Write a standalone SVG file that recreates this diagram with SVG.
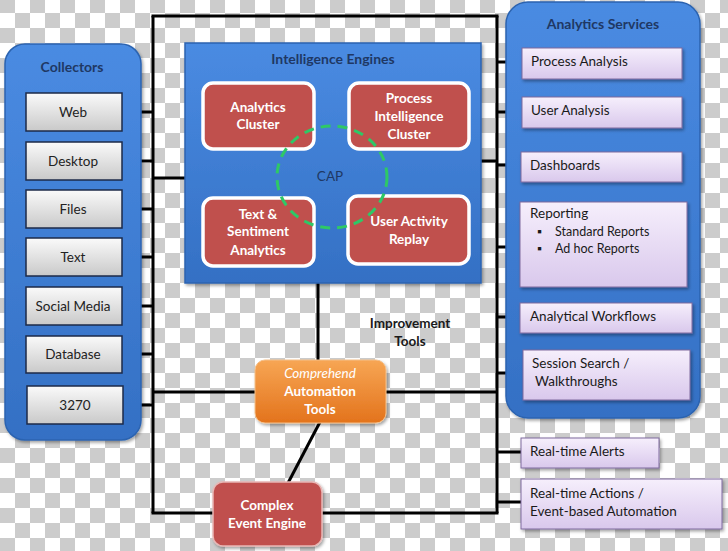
<svg xmlns="http://www.w3.org/2000/svg" width="728" height="551" viewBox="0 0 728 551">
<defs>
<pattern id="checker" width="30" height="30" patternUnits="userSpaceOnUse" patternTransform="translate(0,-2)">
<rect width="30" height="30" fill="#ffffff"/>
<rect width="15" height="15" fill="#cccccc"/>
<rect x="15" y="15" width="15" height="15" fill="#cccccc"/>
</pattern>
<linearGradient id="blue" x1="0" y1="0" x2="0" y2="1">
<stop offset="0" stop-color="#4a8be2"/>
<stop offset="1" stop-color="#3470c4"/>
</linearGradient>
<linearGradient id="gray" x1="0" y1="0" x2="0" y2="1">
<stop offset="0" stop-color="#fafafa"/>
<stop offset="1" stop-color="#c9c9c9"/>
</linearGradient>
<linearGradient id="lav" x1="0" y1="0" x2="0" y2="1">
<stop offset="0" stop-color="#f6effc"/>
<stop offset="1" stop-color="#d9c8ec"/>
</linearGradient>
<linearGradient id="orange" x1="0" y1="0" x2="0" y2="1">
<stop offset="0" stop-color="#f7a654"/>
<stop offset="1" stop-color="#e3731c"/>
</linearGradient>
<filter id="sh" x="-10%" y="-10%" width="130%" height="130%">
<feDropShadow dx="1.5" dy="2" stdDeviation="1.5" flood-color="#000" flood-opacity="0.35"/>
</filter>
<style>
.t{font-family:Lato,"Liberation Sans",sans-serif}
.title{font-weight:bold;font-size:14px;fill:#1f3864;text-anchor:middle}
.panel{fill:url(#blue);stroke:#2c63b0;stroke-width:1.5}
.col{fill:url(#gray);stroke:#1c2a48;stroke-width:1.5}
.colt{font-size:13.5px;fill:#222;text-anchor:middle}
.red{fill:#c0504d;stroke:#ffffff;stroke-width:3.5}
.redt{font-size:13.5px;fill:#ffffff;font-weight:bold;text-anchor:middle}
.lav{fill:url(#lav);stroke:#7f6a9e;stroke-width:1}
.lavt{font-size:13.5px;fill:#1a1a1a}
.ln{stroke:#000;stroke-width:3;fill:none}
</style>
</defs>
<rect width="728" height="551" fill="url(#checker)"/>

<g id="connectors">
<line class="ln" x1="153" y1="16" x2="153" y2="513"/>
<line class="ln" x1="151.5" y1="16" x2="498.5" y2="16"/>
<line class="ln" x1="497" y1="16" x2="497" y2="513"/>
<line class="ln" x1="151.5" y1="513" x2="498.5" y2="513"/>
<line class="ln" x1="153" y1="392" x2="497" y2="392"/>
<line class="ln" x1="122" y1="112" x2="153" y2="112"/>
<line class="ln" x1="122" y1="161" x2="153" y2="161"/>
<line class="ln" x1="122" y1="209" x2="153" y2="209"/>
<line class="ln" x1="122" y1="257" x2="153" y2="257"/>
<line class="ln" x1="122" y1="306" x2="153" y2="306"/>
<line class="ln" x1="122" y1="354" x2="153" y2="354"/>
<line class="ln" x1="122" y1="405" x2="153" y2="405"/>
<line class="ln" x1="153" y1="178" x2="185" y2="178"/>
<line class="ln" x1="480" y1="161" x2="497" y2="161"/>
<line class="ln" x1="318" y1="283" x2="318" y2="362"/>
<line class="ln" x1="320" y1="422" x2="288" y2="483"/>
<line class="ln" x1="497" y1="62" x2="522" y2="62"/>
<line class="ln" x1="497" y1="112" x2="522" y2="112"/>
<line class="ln" x1="497" y1="165" x2="522" y2="165"/>
<line class="ln" x1="497" y1="247" x2="520" y2="247"/>
<line class="ln" x1="497" y1="317" x2="520" y2="317"/>
<line class="ln" x1="497" y1="373" x2="523" y2="373"/>
<line class="ln" x1="497" y1="452" x2="521" y2="452"/>
<line class="ln" x1="497" y1="502" x2="521" y2="502"/>
</g>

<g id="collectors">
<rect class="panel" x="5" y="44" width="136" height="396" rx="20" filter="url(#sh)"/>
<text class="t title" x="72" y="72">Collectors</text>
</g>
<g id="web"><rect class="col" x="26" y="93" width="96" height="38"/><text class="t colt" x="73" y="117">Web</text></g>
<g id="desktop"><rect class="col" x="26" y="142" width="96" height="38"/><text class="t colt" x="73" y="166">Desktop</text></g>
<g id="files"><rect class="col" x="26" y="190" width="96" height="38"/><text class="t colt" x="73" y="214">Files</text></g>
<g id="text"><rect class="col" x="26" y="238" width="96" height="38"/><text class="t colt" x="73" y="262">Text</text></g>
<g id="social"><rect class="col" x="26" y="287" width="96" height="38"/><text class="t colt" x="73" y="311">Social Media</text></g>
<g id="database"><rect class="col" x="26" y="336" width="96" height="37"/><text class="t colt" x="73" y="359">Database</text></g>
<g id="c3270"><rect class="col" x="27" y="386" width="96" height="38"/><text class="t colt" x="75" y="410">3270</text></g>

<g id="intelligence">
<rect class="panel" x="185" y="43" width="296" height="240" filter="url(#sh)"/>
<text class="t title" x="333" y="64">Intelligence Engines</text>
</g>
<g id="analytics-cluster"><rect class="red" x="203" y="83" width="111" height="66" rx="10"/><text class="t redt" x="258" y="112">Analytics</text><text class="t redt" x="258" y="129">Cluster</text></g>
<g id="process-cluster"><rect class="red" x="349" y="83" width="120" height="66" rx="10"/><text class="t redt" x="409" y="103">Process</text><text class="t redt" x="409" y="121">Intelligence</text><text class="t redt" x="409" y="139">Cluster</text></g>
<g id="text-sentiment"><rect class="red" x="203" y="198" width="111" height="68" rx="10"/><text class="t redt" x="258" y="219">Text &amp;</text><text class="t redt" x="258" y="236">Sentiment</text><text class="t redt" x="258" y="255">Analytics</text></g>
<g id="user-activity"><rect class="red" x="348" y="196" width="121" height="68" rx="10"/><text class="t redt" x="409" y="226">User Activity</text><text class="t redt" x="409" y="244">Replay</text></g>
<g id="cap">
<ellipse cx="332" cy="177" rx="55" ry="51" fill="none" stroke="#2ec866" stroke-width="3" stroke-dasharray="10 7"/>
<text class="t" x="330" y="181" font-size="13.5" fill="#1f3864" text-anchor="middle">CAP</text>
</g>

<g id="services">
<rect class="panel" x="506" y="2" width="194" height="416" rx="22" filter="url(#sh)"/>
<text class="t title" x="603" y="29">Analytics Services</text>
</g>
<g id="process-analysis"><rect class="lav" x="522" y="48" width="160" height="31" filter="url(#sh)"/><text class="t lavt" x="531" y="66">Process Analysis</text></g>
<g id="user-analysis"><rect class="lav" x="522" y="97" width="160" height="31" filter="url(#sh)"/><text class="t lavt" x="531" y="115">User Analysis</text></g>
<g id="dashboards"><rect class="lav" x="521" y="152" width="161" height="30" filter="url(#sh)"/><text class="t lavt" x="530" y="170">Dashboards</text></g>
<g id="reporting"><rect class="lav" x="520" y="202" width="167" height="85" filter="url(#sh)"/>
<text class="t lavt" x="530" y="218">Reporting</text>
<text class="t" x="537" y="236" font-size="12.5" fill="#1a1a1a">▪</text><text class="t" x="555" y="236" font-size="12.5" fill="#1a1a1a">Standard Reports</text>
<text class="t" x="537" y="253" font-size="12.5" fill="#1a1a1a">▪</text><text class="t" x="555" y="253" font-size="12.5" fill="#1a1a1a">Ad hoc Reports</text>
</g>
<g id="workflows"><rect class="lav" x="520" y="303" width="172" height="30" filter="url(#sh)"/><text class="t lavt" x="530" y="321">Analytical Workflows</text></g>
<g id="session"><rect class="lav" x="523" y="350" width="167" height="50" filter="url(#sh)"/><text class="t lavt" x="532" y="368">Session Search /</text><text class="t lavt" x="535" y="386">Walkthroughs</text></g>

<g id="alerts"><rect class="lav" x="521" y="438" width="138" height="30" filter="url(#sh)"/><text class="t lavt" x="530" y="456">Real-time Alerts</text></g>
<g id="actions"><rect class="lav" x="521" y="479" width="201" height="50" filter="url(#sh)"/><text class="t lavt" x="530" y="498">Real-time Actions /</text><text class="t lavt" x="530" y="516">Event-based Automation</text></g>

<g id="improvement"><text class="t" x="410" y="328" font-size="13.5" font-weight="bold" fill="#1a1a1a" text-anchor="middle">Improvement</text><text class="t" x="410" y="346" font-size="13.5" font-weight="bold" fill="#1a1a1a" text-anchor="middle">Tools</text></g>

<g id="comprehend"><rect x="255" y="360" width="131" height="63" rx="10" fill="url(#orange)" stroke="#f4c08a" stroke-width="1" filter="url(#sh)"/>
<text class="t" x="320" y="378" font-size="13.5" font-style="italic" fill="#ffffff" text-anchor="middle">Comprehend</text>
<text class="t redt" x="320" y="396">Automation</text>
<text class="t redt" x="320" y="414">Tools</text></g>

<g id="cep"><rect x="213" y="482" width="109" height="64" rx="10" fill="#c0504d" stroke="#e8b7b5" stroke-width="1.5" filter="url(#sh)"/>
<text class="t redt" x="267" y="510">Complex</text><text class="t redt" x="267" y="528">Event Engine</text></g>
</svg>
